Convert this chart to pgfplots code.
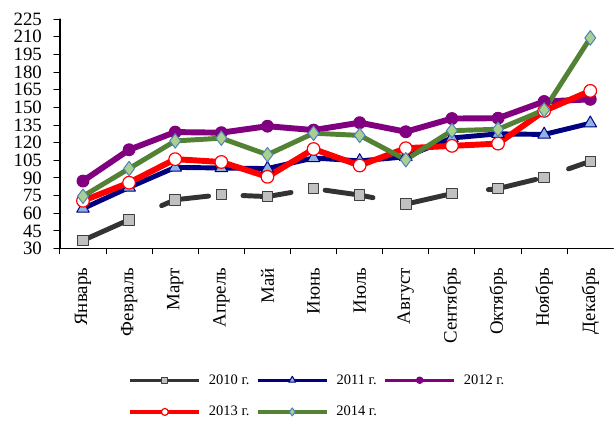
\documentclass[border=0pt]{standalone}
\usepackage{fontspec}
\setmainfont{Liberation Serif}
\usepackage{pgfplots}
\pgfplotsset{compat=1.18}
\definecolor{c10line}{RGB}{51,51,51}
\definecolor{c10fill}{RGB}{192,192,192}
\definecolor{c10edge}{RGB}{64,64,64}
\definecolor{c11line}{RGB}{0,0,128}
\definecolor{c11fill}{RGB}{142,180,227}
\definecolor{c12line}{RGB}{128,0,128}
\definecolor{c13line}{RGB}{255,0,0}
\definecolor{c14line}{RGB}{83,130,53}
\definecolor{c14fill}{RGB}{169,208,142}
\definecolor{c14edge}{RGB}{79,129,189}
\begin{document}
\begin{tikzpicture}[x=1pt,y=1pt]
\begin{axis}[
  at={(0,0)}, anchor=south west,
  scale only axis, width=420.3pt, height=174.3pt,
  xmin=-0.5, xmax=11.5, ymin=30, ymax=225,
  axis lines*=left,
  axis line style={black, line width=1pt},
  tick align=outside,
  tick style={black, line width=0.75pt},
  major tick length=4.5pt,
  minor tick length=3.75pt,
  ytick={30,45,...,225},
  xtick={0,...,11},
  xticklabels={Январь,Февраль,Март,Апрель,Май,Июнь,Июль,Август,Сентябрь,Октябрь,Ноябрь,Декабрь},
  major x tick style={draw=none},
  minor xtick={-0.5,0.5,...,10.5},
  /pgf/number format/assume math mode=true,
  ticklabel style={font=\fontsize{14.3}{16}\selectfont},
  yticklabel style={anchor=east, inner sep=0pt},
  yticklabel shift=9pt,
  xticklabel style={rotate=90, anchor=east, inner sep=0pt},
  xticklabel shift=10pt,
  legend columns=3,
  legend style={at={(0.466,-0.6425)}, anchor=center, draw=none, fill=none,
    font=\fontsize{11}{13}\selectfont, column sep=4pt, row sep=11.25pt,
    /tikz/every even column/.append style={column sep=3pt}},
  legend image code/.code={\draw[#1, line width=2.5pt, mark repeat=2, mark phase=2, every mark/.append style={scale=0.55}] plot coordinates {(0pt,0pt) (26.25pt,0pt) (52.5pt,0pt)};},
  line cap=round, line join=round,
]
\addplot[c10line, line width=3.75pt, dash pattern=on 36.75pt off 26.25pt, dash phase=60.75pt,
  mark=square*, mark size=4pt, mark options={solid, fill=c10fill, draw=c10edge, line width=0.75pt},
  legend image post style={solid}]
  coordinates {(0,37) (1,54.5) (2,71.5) (3,75.8) (4,74.2) (5,81) (6,75.5) (7,67.8) (8,76.7) (9,81) (10,90.5) (11,104.2)};
\addlegendentry{2010 г.}
\addplot[c11line, line width=3.75pt,
  mark=triangle*, mark size=5.5pt, mark options={solid, fill=c11fill, draw=c11line, line width=0.75pt}]
  coordinates {(0,64) (1,82) (2,99) (3,98.5) (4,98) (5,107) (6,104.5) (7,108) (8,124) (9,127.5) (10,127) (11,136.5)};
\addlegendentry{2011 г.}
\addplot[c12line, line width=4.5pt,
  mark=*, mark size=4.5pt, mark options={solid, fill=c12line, draw=c12line, line width=0.75pt}]
  coordinates {(0,87.4) (1,114) (2,129) (3,128.5) (4,134) (5,130.7) (6,137) (7,129.3) (8,140.5) (9,140.8) (10,155) (11,156.8)};
\addlegendentry{2012 г.}
\addplot[c13line, line width=4.5pt,
  mark=*, mark size=4.8pt, mark options={solid, fill=white, draw=c13line, line width=0.9pt}]
  coordinates {(0,70.6) (1,86) (2,106) (3,103.6) (4,91) (5,114.6) (6,100.6) (7,115.3) (8,117.3) (9,119.2) (10,147) (11,164)};
\addlegendentry{2013 г.}
\addplot[c14line, line width=3.75pt,
  mark=diamond*, mark size=5.5pt, mark options={solid, fill=c14fill, draw=c14edge, line width=0.75pt}]
  coordinates {(0,74.5) (1,98) (2,121.5) (3,123.8) (4,109.8) (5,128) (6,126.2) (7,105.5) (8,130.2) (9,131.4) (10,147.8) (11,209)};
\addlegendentry{2014 г.}
\end{axis}
\path[use as bounding box] (-45.5pt,-124.7pt) rectangle (415pt,188.8pt);
\end{tikzpicture}
\end{document}
